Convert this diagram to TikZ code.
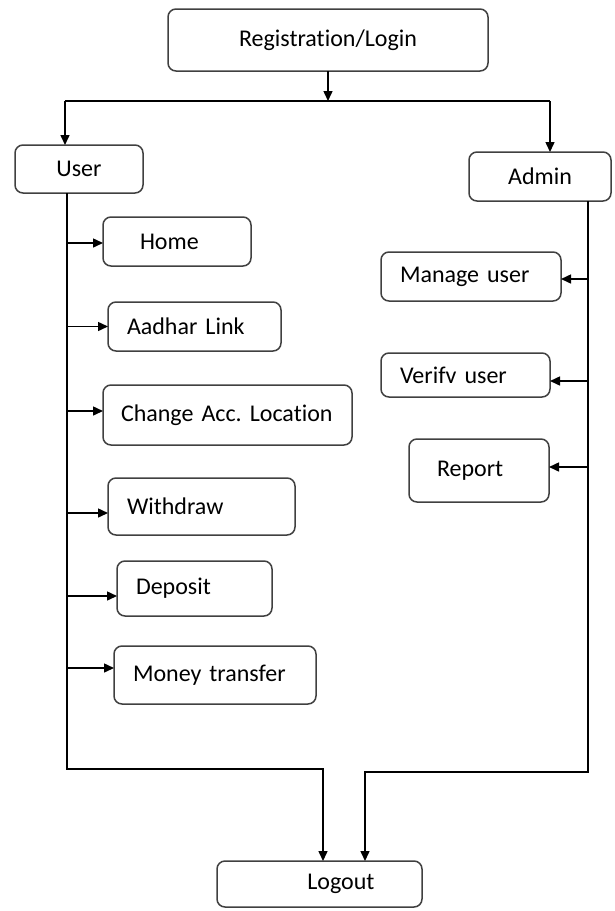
\documentclass[tikz,border=0pt]{standalone}
\usepackage{fontspec}
\setmainfont[Ligatures=CommonOff, WordSpace=0.5]{Carlito}
\usetikzlibrary{arrows.meta, positioning}

\begin{document}
\frenchspacing
\begin{tikzpicture}[
  >={Triangle[length=10pt,width=9pt]},
  every node/.style={font=\fontsize{24}{28}\selectfont},
  box/.style={rectangle, draw=black!75, line width=1.5pt, outer sep=0pt,
             rounded corners=8pt, align=center},
  lbox/.style={box, align=left, inner xsep=19pt},
  arrow/.style={->, line width=1.5pt},
  link/.style={line width=1.5pt}
]
\useasboundingbox (0,0) rectangle (614pt,-911pt);

% Main flow
\node[box, minimum width=320pt, minimum height=62pt] (reg) at (328pt,-40pt)
  {Registration/Login};
\node[box, below left=74pt and 25pt of reg, minimum width=128pt, minimum height=48pt] (user)
  {User};
\node[box, below right=81pt and -19pt of reg, minimum width=142pt, minimum height=49pt] (admin)
  {Admin};

% User side
\node[lbox, below=24pt of user, xshift=98pt, inner xsep=37pt, text width=74pt, minimum height=49pt] (home)
  {Home};
\node[lbox, below=36pt of home, xshift=17.5pt, text width=135pt, minimum height=49pt] (aadhar)
  {Aadhar Link};
\node[lbox, below=34pt of aadhar, xshift=33pt, inner xsep=18pt, text width=213pt, minimum height=60pt] (change)
  {Change Acc. Location};
\node[lbox, below=33pt of change, xshift=-26pt, text width=149pt, minimum height=57pt] (withdraw)
  {Withdraw};
\node[lbox, below=26pt of withdraw, xshift=-7pt, text width=117pt, minimum height=55pt] (deposit)
  {Deposit};
\node[lbox, below=30pt of deposit, xshift=20.5pt, text width=164pt, minimum height=58pt] (money)
  {Money transfer};

% Admin side
\node[lbox, below=51pt of admin, xshift=-69pt, text width=142pt, minimum height=49pt] (manage)
  {Manage user};
\node[lbox, below=52pt of manage, xshift=-5.5pt, text width=131pt, minimum height=44pt] (verify)
  {Verifv user};
\node[lbox, below=42pt of verify, xshift=13.5pt, inner xsep=28pt, text width=84pt, minimum height=63pt] (report)
  {Report};

\node[box, below=157pt of money, xshift=104.5pt, align=right, inner xsep=47.5pt, text width=110pt, minimum height=46pt] (logout)
  {Logout};

% Arrows
\coordinate[below=30pt of reg] (split);
\coordinate (uin) at ([xshift=-14pt]user.north);
\coordinate (ain) at ([xshift=10pt]admin.north);
\draw[arrow] (reg.south) -- (split);
\draw[link] (uin |- split) -- (ain |- split);
\draw[arrow] (uin |- split) -- (uin);
\draw[arrow] (ain |- split) -- (ain);

% Trunks down to Logout
\coordinate (ltop) at ([xshift=-12pt]user.south);
\coordinate[below=576pt of ltop] (lbot);
\coordinate (lin) at ([xshift=3.5pt]logout.north);
\draw[arrow] (ltop) -- (lbot) -| (lin);

\coordinate (rtop) at ([xshift=48pt]admin.south);
\coordinate[below=571pt of rtop] (rbot);
\coordinate (rin) at ([xshift=45.5pt]logout.north);
\draw[arrow] (rtop) -- (rbot) -| (rin);

% Branches
\foreach \n/\dy in {home/-1.5, aadhar/0, change/4, withdraw/-6.5, deposit/-7.5, money/7}{
  \coordinate (tip) at ([yshift=\dy pt]\n.west);
  \draw[arrow] (tip -| ltop) -- (tip);
}
\foreach \n/\dy in {manage/-2.5, verify/-6, report/3.5}{
  \coordinate (tip) at ([yshift=\dy pt]\n.east);
  \draw[arrow] (tip -| rtop) -- (tip);
}

\end{tikzpicture}
\end{document}
